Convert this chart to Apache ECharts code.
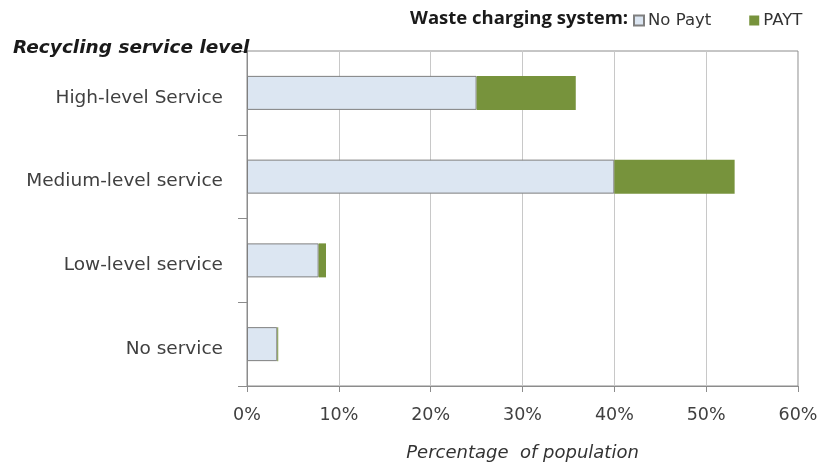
<!DOCTYPE html>
<html>
<head>
<meta charset="utf-8">
<script src="https://cdn.jsdelivr.net/npm/echarts@6/dist/echarts.min.js"></script>
<style>
  html, body { margin: 0; padding: 0; background: #fff; }
  #chart { width: 827px; height: 468px; }
</style>
</head>
<body>
<div id="chart"></div>
<script>
// Recycling service levels, top to bottom
const categories = ['High-level Service', 'Medium-level service', 'Low-level service', 'No service'];
// Share of population (%) without pay-as-you-throw charging
const noPayt = [25.0, 40.0, 7.8, 3.3];
// Share of population (%) with pay-as-you-throw charging
const payt = [10.8, 13.1, 0.8, 0.1];
const seriesNames = ['No Payt', 'PAYT'];
const xTicks = [0, 10, 20, 30, 40, 50, 60];

const wideFont = 'DejaVu Sans, sans-serif';
const boldFont = 'Open Sans, Liberation Sans, sans-serif';
const textColor = '#404040';

const chart = echarts.init(document.getElementById('chart'));
chart.setOption({
  animation: false,
  backgroundColor: '#fff',
  grid: {
    left: 247, right: 29, top: 51, bottom: 82,
    show: true, borderColor: '#8c8c8c', borderWidth: 1
  },
  title: [{
    text: 'Recycling service level',
    left: 8, top: 34,
    textStyle: { fontFamily: wideFont, fontSize: 18.5, fontWeight: 'bold', fontStyle: 'italic', color: '#1a1a1a' }
  }, {
    text: 'Waste charging system:',
    left: 405, top: 4,
    textStyle: { fontFamily: boldFont, fontSize: 18.5, fontWeight: 'bold', color: '#1a1a1a' }
  }],
  legend: {
    data: seriesNames,
    left: 628, top: 7,
    itemWidth: 10, itemHeight: 10, itemGap: 38,
    icon: 'rect',
    textStyle: { fontFamily: wideFont, fontSize: 16.5, color: '#333', padding: [0, 0, 0, -1] }
  },
  xAxis: {
    type: 'value',
    min: xTicks[0], max: xTicks[xTicks.length - 1], interval: 10,
    name: 'Percentage  of population',
    nameLocation: 'middle', nameGap: 58,
    nameTextStyle: { fontFamily: wideFont, fontSize: 18, fontStyle: 'italic', color: '#333' },
    axisLine: { show: true, lineStyle: { color: '#8c8c8c' } },
    axisTick: { show: true, length: 6, lineStyle: { color: '#8c8c8c' } },
    axisLabel: { fontFamily: wideFont, fontSize: 17.5, color: textColor, margin: 20, formatter: '{value}%' },
    splitLine: { show: true, lineStyle: { color: '#c8c8c8' } }
  },
  yAxis: {
    type: 'category',
    data: categories,
    inverse: true,
    axisLine: { show: true, lineStyle: { color: '#8c8c8c' } },
    axisTick: { show: true, length: 9, lineStyle: { color: '#8c8c8c' } },
    axisLabel: {
      fontFamily: wideFont, fontSize: 18.5, color: textColor, margin: 24,
      verticalAlign: 'top', lineHeight: 10
    },
    splitLine: { show: false }
  },
  series: [{
    name: seriesNames[0],
    type: 'bar', stack: 'total',
    data: noPayt,
    barWidth: 34,
    itemStyle: { color: '#dce6f2', borderColor: '#7f7f7f', borderWidth: 1 }
  }, {
    name: seriesNames[1],
    type: 'bar', stack: 'total',
    data: payt,
    barWidth: 34,
    itemStyle: { color: '#77933c' }
  }]
});
</script>
</body>
</html>
